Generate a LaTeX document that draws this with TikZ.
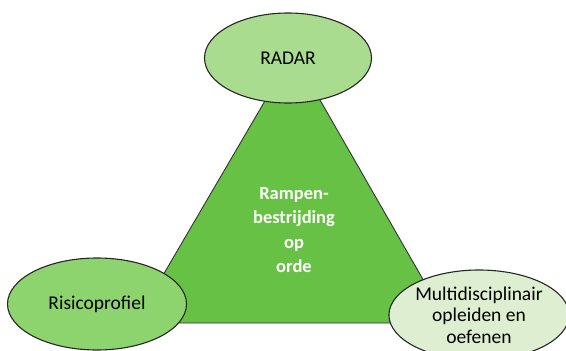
\documentclass[tikz,border=0pt]{standalone}
\usepackage{fontspec}
\setmainfont{Carlito}
\usetikzlibrary{shapes.geometric}
\definecolor{driehoek}{HTML}{66C144}
\definecolor{radargroen}{HTML}{A9DC8E}
\definecolor{risicogroen}{HTML}{8ED46E}
\definecolor{oefengroen}{HTML}{DDEFD0}
\tikzset{
    bol/.style={ellipse, draw=black!85, line width=1.1pt, inner sep=0pt, align=center,
        font=\fontsize{19.5}{21.5}\selectfont},
}
\begin{document}
\begin{tikzpicture}[x=1pt,y=-1pt]
        \useasboundingbox (0,0) rectangle (566,351);

        \coordinate (top) at (293,53);
        \coordinate (links) at (135,323);
        \coordinate (rechts) at (448,323);
        \draw[fill=driehoek, draw=black!80, line width=0.9pt] (links) -- (top) -- (rechts) -- cycle;
        \node[text=white, align=center, font=\bfseries\fontsize{18.5}{24.5}\selectfont] (kern) at (294,230)
            {Rampen-\\bestrijding\\op\\orde};

        \node[bol, fill=radargroen, minimum width=167, minimum height=90] (radar) at (288,58) {RADAR};
        \node[bol, fill=risicogroen, minimum width=179, minimum height=92] (risico) at (97,304) {Risicoprofiel};
        \node[bol, fill=oefengroen, minimum width=167, minimum height=90] (oefenen) at (479,315)
            {Multidisciplinair\\opleiden en\\oefenen};
    \end{tikzpicture}
\end{document}
